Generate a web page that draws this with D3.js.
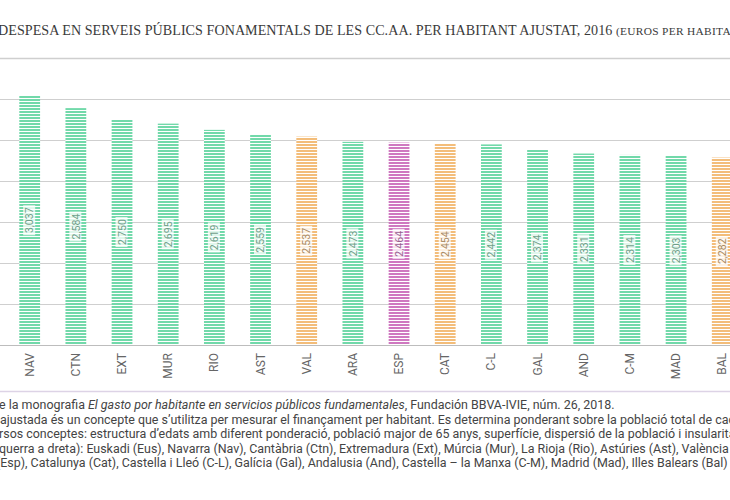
<!DOCTYPE html>
<html>
<head>
<meta charset="utf-8">
<script src="https://cdn.jsdelivr.net/npm/d3@7"></script>
<style>
  html, body { margin: 0; padding: 0; background: #fff; overflow: hidden; }
  svg { display: block; }
</style>
</head>
<body>
<svg id="chart" width="730" height="500"></svg>
<script>
// ---- data ----
const categories = ["NAV","CTN","EXT","MUR","RIO","AST","VAL","ARA","ESP","CAT","C-L","GAL","AND","C-M","MAD","BAL"];
const values = [3037, 2884, 2750, 2695, 2619, 2559, 2537, 2473, 2464, 2454, 2442, 2374, 2331, 2314, 2303, 2282];
const valueLabels = ["3,037","2,584","2,750","2,695","2,619","2,559","2,537","2,473","2,464","2,454","2,442","2,374","2,331","2,314","2,303","2,282"];
const groups = ["a","a","a","a","a","a","b","a","c","b","a","a","a","a","a","b"];
const yTicks = [0, 500, 1000, 1500, 2000, 2500, 3000, 3500];

const titleMain = "DESPESA EN SERVEIS PÚBLICS FONAMENTALS DE LES CC.AA. PER HABITANT AJUSTAT, 2016";
const titleUnit = "(EUROS PER HABITANT)";
const notes = [
  [{t:"e la monografia "}, {t:"El gasto por habitante en servicios públicos fundamentales", i:true}, {t:", Fundación BBVA-IVIE, núm. 26, 2018."}],
  [{t:"ajustada és un concepte que s’utilitza per mesurar el finançament per habitant. Es determina ponderant sobre la població total de cada comunitat"}],
  [{t:"rsos conceptes: estructura d’edats amb diferent ponderació, població major de 65 anys, superfície, dispersió de la població i insularitat."}],
  [{t:"querra a dreta): Euskadi (Eus), Navarra (Nav), Cantàbria (Ctn), Extremadura (Ext), Múrcia (Mur), La Rioja (Rio), Astúries (Ast), València (Val),"}],
  [{t:"(Esp), Catalunya (Cat), Castella i Lleó (C-L), Galícia (Gal), Andalusia (And), Castella – la Manxa (C-M), Madrid (Mad), Illes Balears (Bal) i Canàries (Can)."}]
];

// ---- styles ----
const colors = { a: "#72d9aa", b: "#f3bd7a", c: "#cf78c0" };
const textColors = { a: "#6f9e89", b: "#a98a62", c: "#9a6190" };

const svg = d3.select("#chart");

const x = d3.scaleBand()
  .domain(categories)
  .range([6.6, 6.6 + 16 * 46.17])
  .paddingInner(0.55)
  .paddingOuter(0.275);

const y = d3.scaleLinear().domain([0, 3500]).range([345, 57.5]);

// patterns
const defs = svg.append("defs");
Object.entries(colors).forEach(([k, c]) => {
  const p = defs.append("pattern")
    .attr("id", "stripe-" + k)
    .attr("patternUnits", "userSpaceOnUse")
    .attr("width", 8).attr("height", 3);
  p.append("rect").attr("width", 8).attr("height", 3).attr("fill", "#fff");
  p.append("rect").attr("width", 8).attr("height", 2).attr("fill", c);
});

// title
const title = svg.append("text")
  .attr("x", -2).attr("y", 35)
  .attr("font-family", "'Liberation Serif', 'DejaVu Serif', serif")
  .attr("fill", "#3a3a3a");
title.append("tspan").attr("font-size", 14.1).attr("letter-spacing", 0.05).text(titleMain + " ");
title.append("tspan").attr("font-size", 11.4).attr("letter-spacing", 0.3).text(titleUnit);

// gridlines
svg.append("g")
  .selectAll("line")
  .data(yTicks)
  .join("line")
  .attr("x1", 0).attr("x2", 730)
  .attr("y1", d => Math.round(y(d)) + 0.5)
  .attr("y2", d => Math.round(y(d)) + 0.5)
  .attr("stroke", d => d === 0 ? "#bdbdbd" : "#cfcfcf")
  .attr("stroke-width", d => d === 3500 ? 1.6 : 1.1);

// bars
const bars = svg.append("g").selectAll("g.bar")
  .data(categories.map((c, i) => ({ c, v: values[i], l: valueLabels[i], g: groups[i] })))
  .join("g").attr("class", "bar");

bars.append("rect")
  .attr("x", d => x(d.c))
  .attr("width", x.bandwidth())
  .attr("y", d => y(d.v))
  .attr("height", d => y(0) - 1 - y(d.v))
  .attr("fill", d => `url(#stripe-${d.g})`);

// value labels
const lab = bars.append("g")
  .attr("transform", d => `translate(${x(d.c) + x.bandwidth() / 2},${(y(d.v) + y(0)) / 2}) rotate(-90)`);
lab.append("rect")
  .attr("x", -15).attr("y", -6.5)
  .attr("width", 30).attr("height", 12)
  .attr("fill", "#fff").attr("fill-opacity", 0.78);
lab.append("text")
  .attr("text-anchor", "middle")
  .attr("dy", "0.36em")
  .attr("font-family", "Roboto, 'DejaVu Sans', sans-serif")
  .attr("font-size", 10.5)
  .attr("fill", d => textColors[d.g])
  .text(d => d.l);

// x axis labels
svg.append("g").selectAll("text")
  .data(categories)
  .join("text")
  .attr("transform", d => `translate(${x(d) + x.bandwidth() / 2 + 4},353) rotate(-90)`)
  .attr("text-anchor", "end")
  .attr("font-family", "Roboto, 'DejaVu Sans', sans-serif")
  .attr("font-size", 12)
  .attr("fill", "#666")
  .text(d => d);

// separator
svg.append("line")
  .attr("x1", 0).attr("x2", 730)
  .attr("y1", 391.5).attr("y2", 391.5)
  .attr("stroke", "#ddd3e6").attr("stroke-width", 1.6);

// notes
const noteX = [-1, 0, -1, -1, -4];
notes.forEach((parts, i) => {
  const t = svg.append("text")
    .attr("x", noteX[i]).attr("y", 409 + i * 14.6)
    .attr("font-family", "Roboto, 'DejaVu Sans', sans-serif")
    .attr("font-size", 12.45)
    .attr("fill", "#444");
  parts.forEach(p => {
    t.append("tspan").attr("font-style", p.i ? "italic" : null).text(p.t);
  });
});
</script>
</body>
</html>
